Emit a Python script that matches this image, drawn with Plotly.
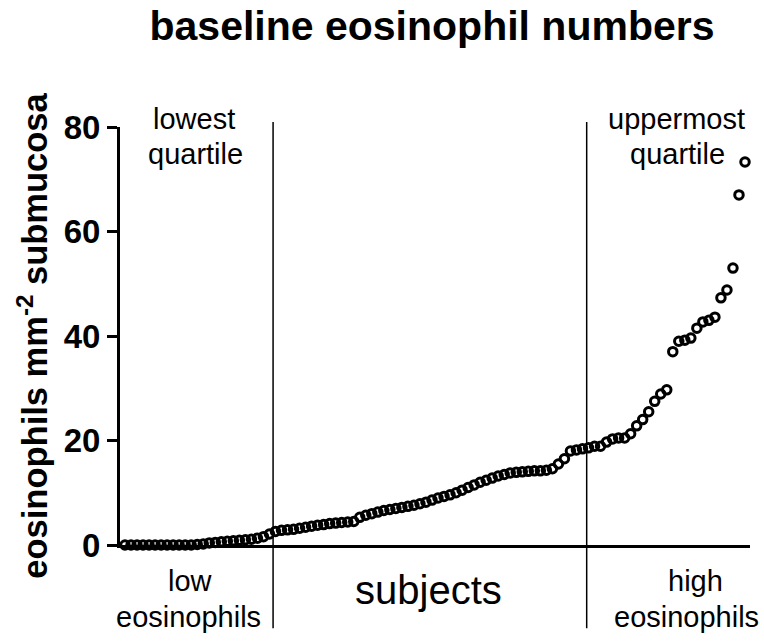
import plotly.graph_objects as go

# sorted baseline eosinophil counts (eosinophils / mm^2 submucosa), one per subject
eos_values = [
    0, 0, 0, 0, 0, 0, 0, 0, 0, 0, 0, 0, 0.1, 0.2, 0.4, 0.5, 0.6, 0.7, 0.8, 0.9,
    1.0, 1.1, 1.3, 1.6, 2.1, 2.6, 2.8, 2.9, 3.0, 3.2, 3.4, 3.6, 3.8, 3.9, 4.1, 4.2,
    4.3, 4.4, 4.5, 5.3, 5.7, 6.0, 6.3, 6.6, 6.8, 7.0, 7.2, 7.4, 7.6, 7.9, 8.2, 8.6,
    9.0, 9.3, 9.6, 10.0, 10.5, 11.0, 11.5, 12.0, 12.4, 12.8, 13.2, 13.5, 13.8, 13.9,
    14.0, 14.1, 14.2, 14.2, 14.3, 14.6, 15.5, 16.5, 18.0, 18.2, 18.4, 18.6, 18.9, 18.9,
    19.7, 20.3, 20.5, 20.5, 21.3, 22.8, 24.0, 25.5, 27.5, 28.9, 29.7, 37.0, 39.0, 39.2,
    39.6, 41.5, 42.7, 43.0, 43.6, 47.3, 48.8, 53.0, 67.0, 73.3,
]
subjects = list(range(1, len(eos_values) + 1))

y_ticks = [0, 20, 40, 60, 80]
quartile_bounds = [25.6, 77.7]

FONT = "Arial, Liberation Sans, sans-serif"

fig = go.Figure()
fig.add_trace(go.Scatter(
    x=subjects, y=eos_values, mode="markers", cliponaxis=False,
    marker=dict(symbol="circle-open", size=8.5, color="black",
                line=dict(color="black", width=3)),
    showlegend=False, hoverinfo="skip",
))

for xb in quartile_bounds:
    fig.add_shape(type="line", xref="x", yref="paper", x0=xb, x1=xb,
                  y0=-0.199, y1=1.012, line=dict(color="black", width=1.5))

def ann(text, x, y, size=29):
    fig.add_annotation(text=text, xref="paper", yref="paper", x=x, y=y,
                       xanchor="center", yanchor="middle", showarrow=False,
                       font=dict(family=FONT, size=size, color="black"))

# plot area: x 120..750 px, y 127..545 px
def px(xp, yp):
    return (xp - 120) / 630, (545 - yp) / 418

for text, xp, yp in [("lowest", 194, 119), ("quartile", 195, 154),
                     ("uppermost", 676, 119), ("quartile", 677, 154),
                     ("low", 190, 581), ("eosinophils", 188, 617),
                     ("high", 695, 581), ("eosinophils", 686, 617)]:
    ann(text, *px(xp, yp))
ann("subjects", *px(428, 590), size=40)

fig.update_layout(
    width=764, height=642,
    margin=dict(l=120, r=14, t=127, b=97),
    paper_bgcolor="white", plot_bgcolor="white",
    font=dict(family=FONT, color="black"),
    title=dict(text="<b>baseline eosinophil numbers</b>", x=432 / 764, xref="container",
               xanchor="center", y=1 - 26 / 642, yref="container", yanchor="middle",
               font=dict(family=FONT, size=41, color="black")),
    xaxis=dict(range=[0.17, 104.83], showline=True, linewidth=3, linecolor="black",
               showgrid=False, zeroline=False, showticklabels=False, ticks=""),
    yaxis=dict(range=[0, 80], tickvals=y_ticks, showline=True, linewidth=3,
               linecolor="black", showgrid=False, zeroline=False,
               ticks="outside", ticklen=10, tickwidth=3, tickcolor="black",
               tickfont=dict(family=FONT, size=33, color="black", weight="bold"),
               title=dict(text="<b>eosinophils mm<sup>-2</sup> submucosa</b>",
                          font=dict(family=FONT, size=34.5, color="black"), standoff=6)),
)

fig.write_html("out.html", config={"displayModeBar": False},
               post_script="document.body.style.margin='0';document.body.style.overflow='hidden';")
